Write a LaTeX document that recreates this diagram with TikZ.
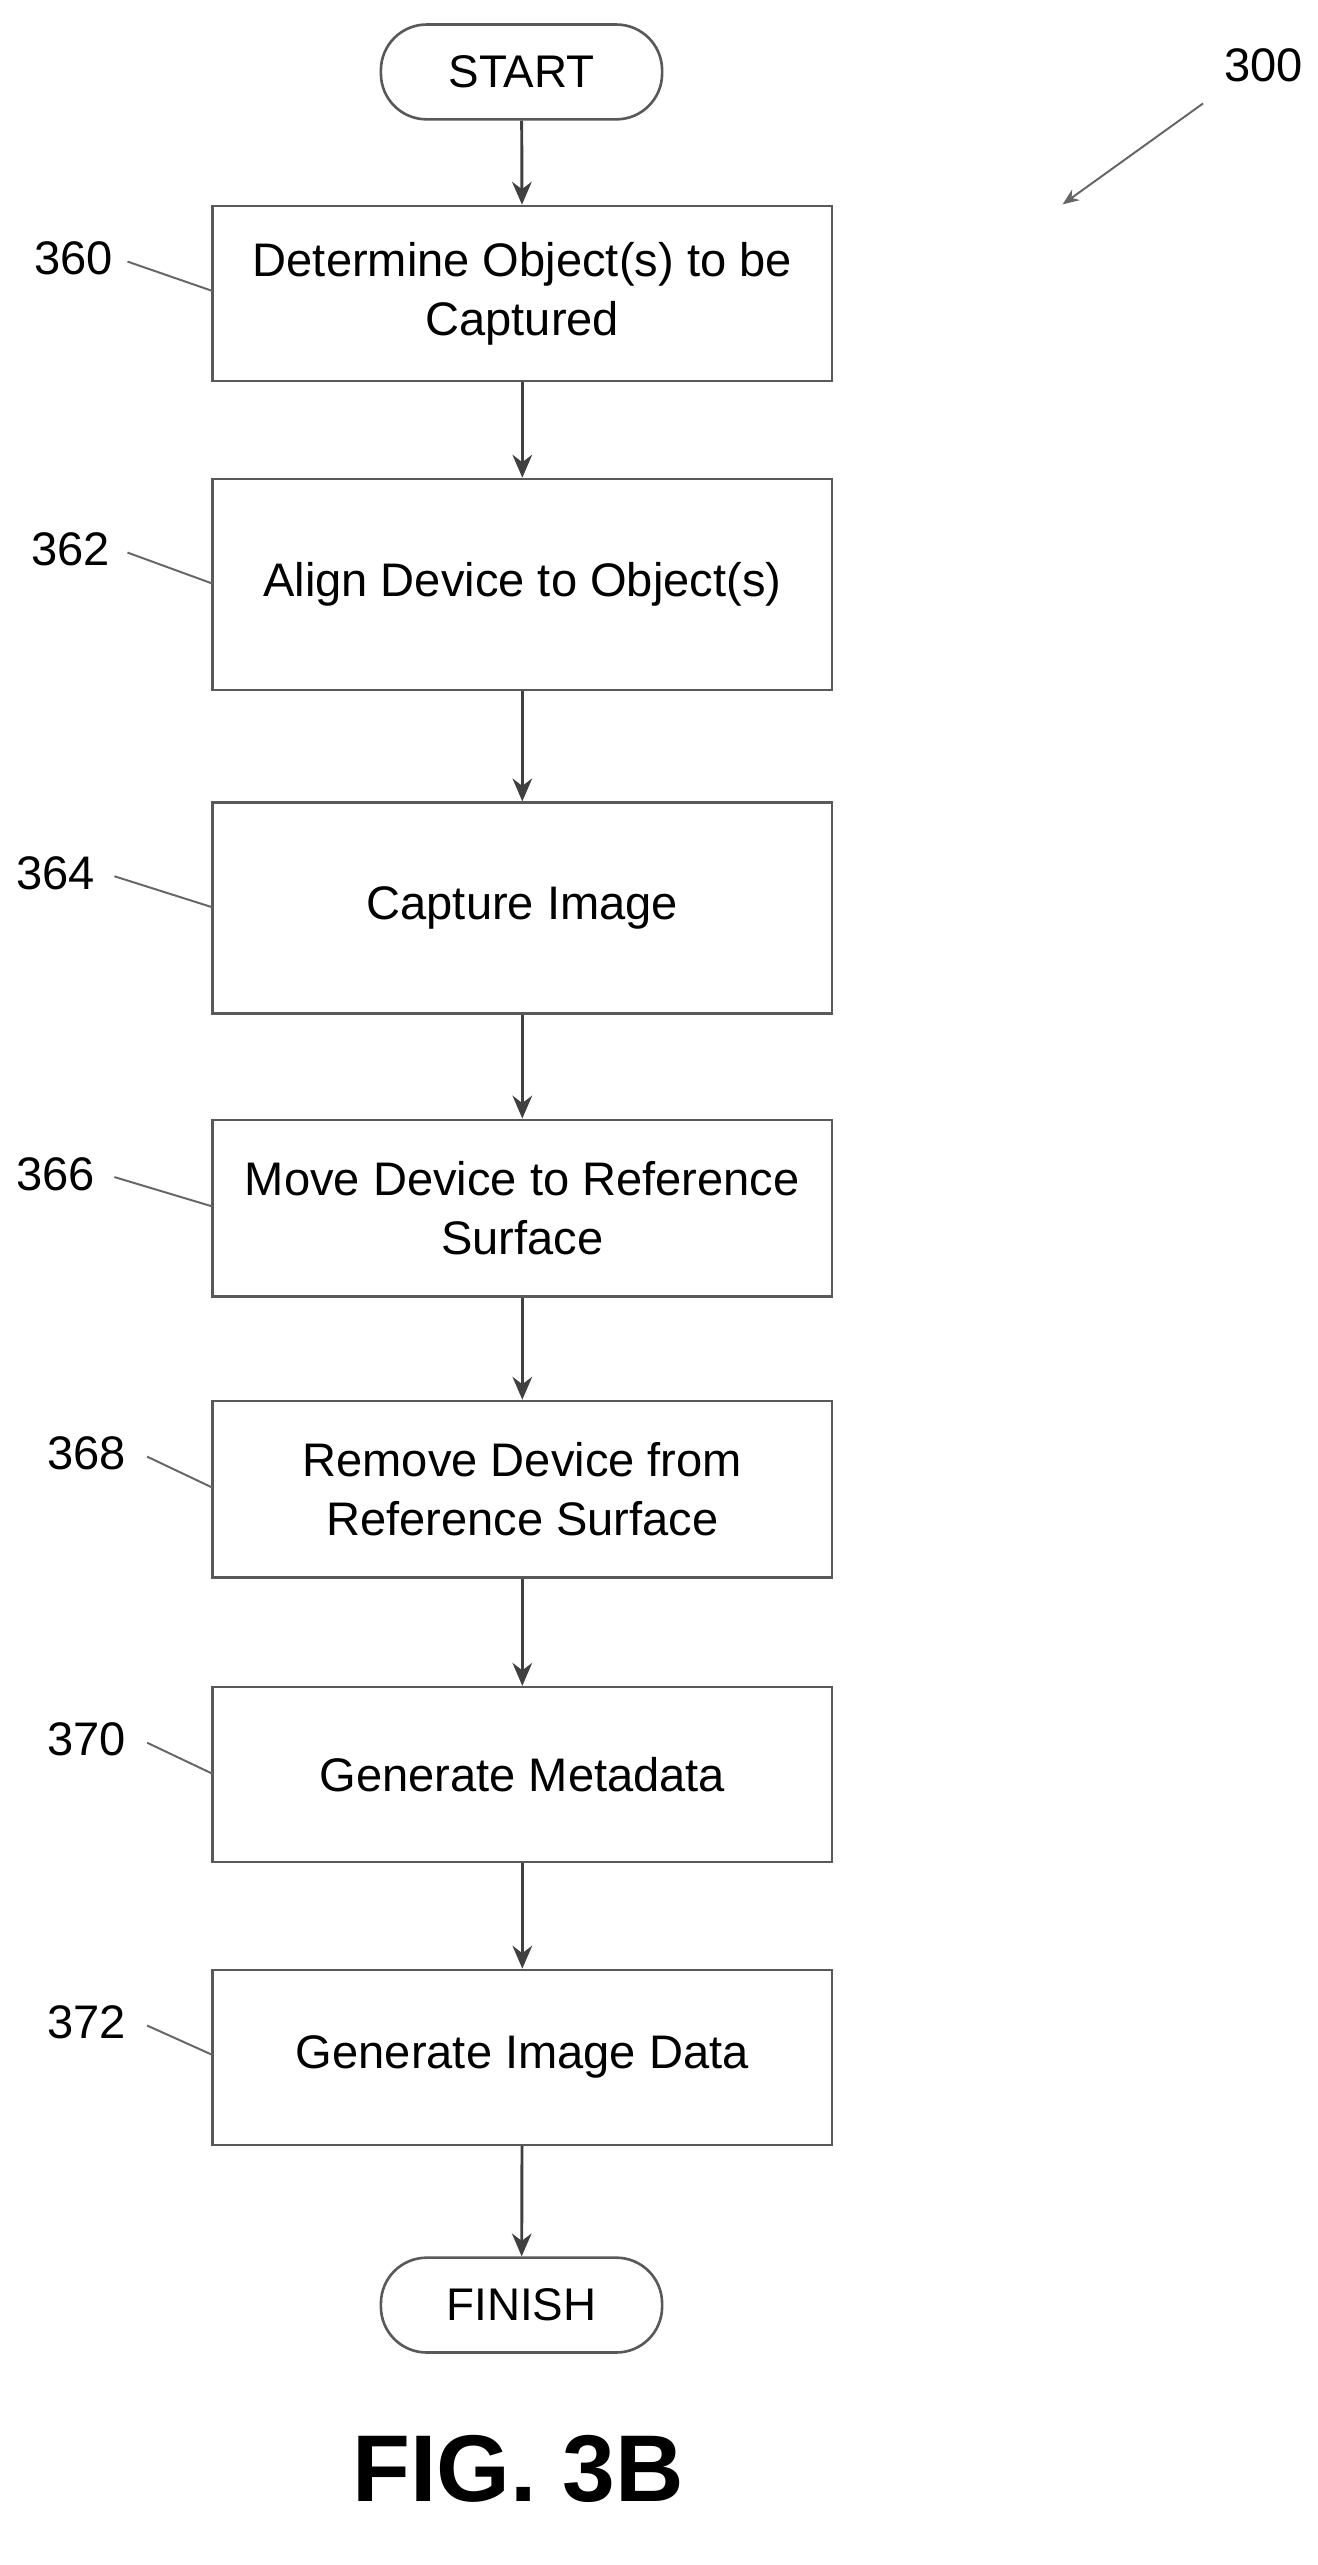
\documentclass[tikz,border=0pt]{standalone}
\usepackage{fontspec}
\setmainfont{Liberation Sans}
\usetikzlibrary{arrows.meta}
\begin{document}
\begin{tikzpicture}[x=0.5pt,y=-0.5pt,
 box/.style={draw=black!65,line width=0.8pt,minimum width=189.5pt,align=center,font=\fontsize{14.4}{18}\selectfont},
 term/.style={draw=black!65,line width=0.8pt,rounded corners=14pt,minimum width=86pt,minimum height=29pt,font=\fontsize{14}{16}\selectfont},
 arr/.style={draw=black!75,line width=0.9pt,-{Stealth[length=7pt,width=6pt]}},
 lead/.style={draw=black!60,line width=0.6pt},
 lab/.style={font=\fontsize{14.4}{16}\selectfont}]
\useasboundingbox (0,0) rectangle (806,1569);
\node[term] (s) at (319,44) {START};
\node[box,minimum height=53.5pt] (b1) at (319.5,179.5) {Determine Object(s) to be\\Captured};
\node[box,minimum height=64.5pt] (b2) at (319.5,357.5) {Align Device to Object(s)};
\node[box,minimum height=64.5pt] (b3) at (319.5,555.5) {Capture Image};
\node[box,minimum height=54pt] (b4) at (319.5,739) {Move Device to Reference\\Surface};
\node[box,minimum height=54pt] (b5) at (319.5,911) {Remove Device from\\Reference Surface};
\node[box,minimum height=53.5pt] (b6) at (319.5,1085.5) {Generate Metadata};
\node[box,minimum height=53.5pt] (b7) at (319.5,1258.5) {Generate Image Data};
\node[term] (f) at (319,1410) {FINISH};
\draw[arr] (s) -- (b1);
\draw[arr] (b1) -- (b2);
\draw[arr] (b2) -- (b3);
\draw[arr] (b3) -- (b4);
\draw[arr] (b4) -- (b5);
\draw[arr] (b5) -- (b6);
\draw[arr] (b6) -- (b7);
\draw[arr] (b7) -- (f);
\node[lab] (l0) at (773,40) {300};
\coordinate (t0) at (650,125);
\draw[draw=black!60,line width=0.6pt,-{Stealth[length=5pt,width=4pt]}] (l0.south west) ++(-6,6) -- (t0);
\node[lab] (l1) at (45,158) {360}; \draw[lead] (78,160) -- (130,178);
\node[lab] (l2) at (43,336) {362}; \draw[lead] (78,338) -- (130,357);
\node[lab] (l3) at (34,534) {364}; \draw[lead] (70,536) -- (130,555);
\node[lab] (l4) at (34,718) {366}; \draw[lead] (70,720) -- (130,738);
\node[lab] (l5) at (53,889) {368}; \draw[lead] (90,891) -- (130,910);
\node[lab] (l6) at (53,1064) {370}; \draw[lead] (90,1066) -- (130,1085);
\node[lab] (l7) at (53,1237) {372}; \draw[lead] (90,1239) -- (130,1257);
\node[font=\fontsize{29}{34}\selectfont\bfseries] (fig) at (317,1510) {FIG. 3B};
\end{tikzpicture}
\end{document}
